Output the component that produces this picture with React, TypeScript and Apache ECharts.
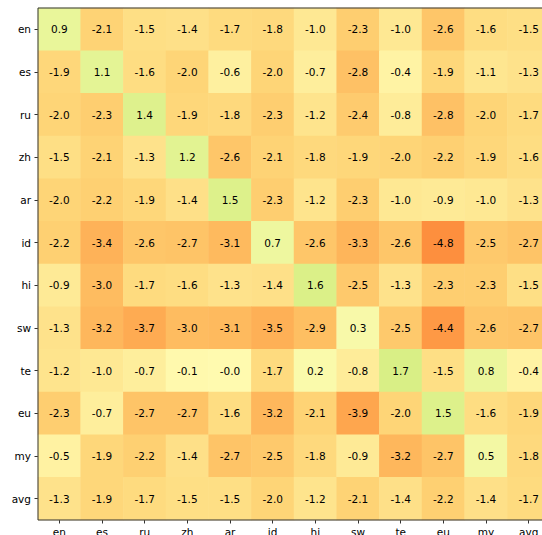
import React, { useEffect, useRef } from "react";
import * as echarts from "echarts";

const languages = ["en", "es", "ru", "zh", "ar", "id", "hi", "sw", "te", "eu", "my", "avg"];

const rowEn = [0.9, -2.1, -1.5, -1.4, -1.7, -1.8, -1.0, -2.3, -1.0, -2.6, -1.6, -1.5];
const rowEs = [-1.9, 1.1, -1.6, -2.0, -0.6, -2.0, -0.7, -2.8, -0.4, -1.9, -1.1, -1.3];
const rowRu = [-2.0, -2.3, 1.4, -1.9, -1.8, -2.3, -1.2, -2.4, -0.8, -2.8, -2.0, -1.7];
const rowZh = [-1.5, -2.1, -1.3, 1.2, -2.6, -2.1, -1.8, -1.9, -2.0, -2.2, -1.9, -1.6];
const rowAr = [-2.0, -2.2, -1.9, -1.4, 1.5, -2.3, -1.2, -2.3, -1.0, -0.9, -1.0, -1.3];
const rowId = [-2.2, -3.4, -2.6, -2.7, -3.1, 0.7, -2.6, -3.3, -2.6, -4.8, -2.5, -2.7];
const rowHi = [-0.9, -3.0, -1.7, -1.6, -1.3, -1.4, 1.6, -2.5, -1.3, -2.3, -2.3, -1.5];
const rowSw = [-1.3, -3.2, -3.7, -3.0, -3.1, -3.5, -2.9, 0.3, -2.5, -4.4, -2.6, -2.7];
const rowTe = [-1.2, -1.0, -0.7, -0.1, -0.03, -1.7, 0.2, -0.8, 1.7, -1.5, 0.8, -0.4];
const rowEu = [-2.3, -0.7, -2.7, -2.7, -1.6, -3.2, -2.1, -3.9, -2.0, 1.5, -1.6, -1.9];
const rowMy = [-0.5, -1.9, -2.2, -1.4, -2.7, -2.5, -1.8, -0.9, -3.2, -2.7, 0.5, -1.8];
const rowAvg = [-1.3, -1.9, -1.7, -1.5, -1.5, -2.0, -1.2, -2.1, -1.4, -2.2, -1.4, -1.7];

const rows = [rowEn, rowEs, rowRu, rowZh, rowAr, rowId, rowHi, rowSw, rowTe, rowEu, rowMy, rowAvg];

// colour stops evenly spaced from -5 to 2
const colorStops = [
  "#fd8a3a", "#fea34c", "#febc60", "#fed577", "#fee893", "#fffbb0", "#e6f597", "#d3ec7e",
];

export default function App() {
  const ref = useRef<HTMLDivElement>(null);
  useEffect(() => {
    if (!ref.current) return;
    const chart = echarts.init(ref.current, undefined, { renderer: "svg" });
    const data: [number, number, number][] = [];
    rows.forEach((row, r) => row.forEach((v, c) => data.push([c, r, v])));
    const font = "'DejaVu Sans', sans-serif";
    chart.setOption({
      animation: false,
      grid: {
        left: 38,
        top: 8,
        width: 512,
        height: 512,
        containLabel: false,
        outerBoundsMode: "none",
        show: true,
        borderColor: "#333",
        borderWidth: 1,
        z: 10,
      },
      visualMap: {
        show: false,
        min: -5,
        max: 2,
        calculable: false,
        inRange: { color: colorStops },
      },
      xAxis: {
        type: "category",
        data: languages,
        axisLine: { show: false },
        axisTick: { show: true, alignWithLabel: true, length: 3.5, lineStyle: { color: "#333" } },
        axisLabel: { color: "#000", fontFamily: font, fontSize: 10.5, margin: 6 },
        splitLine: { show: false },
        splitArea: { show: false },
      },
      yAxis: {
        type: "category",
        data: languages,
        inverse: true,
        axisLine: { show: false },
        axisTick: { show: true, alignWithLabel: true, length: 3.5, lineStyle: { color: "#333" } },
        axisLabel: { color: "#000", fontFamily: font, fontSize: 10.5, margin: 7 },
        splitLine: { show: false },
        splitArea: { show: false },
      },
      series: [
        {
          type: "heatmap",
          data,
          label: {
            show: true,
            color: "#000",
            fontFamily: font,
            fontSize: 10.5,
            formatter: (p: any) => (p.value[2] as number).toFixed(1),
          },
          itemStyle: { borderWidth: 0 },
          emphasis: { disabled: true },
        },
      ],
    });
    return () => chart.dispose();
  }, []);
  return (
    <div
      ref={ref}
      style={{ position: "absolute", left: 0, top: 0, width: 542, height: 535 }}
    />
  );
}
